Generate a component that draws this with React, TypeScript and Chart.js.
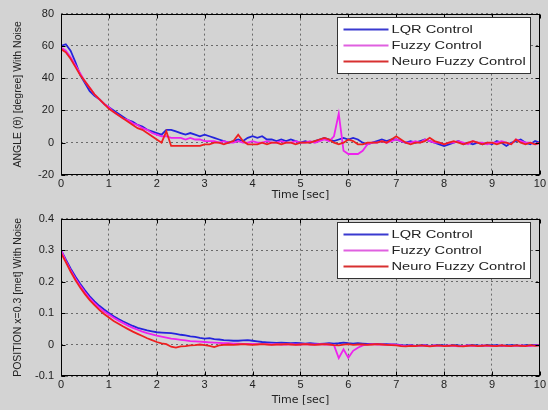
import React, { useEffect, useRef } from "react";
import { Chart, registerables } from "chart.js";
Chart.register(...registerables);

// time grid: 0 .. 10 s, 0.1 s step
const timeSec: number[] = Array.from({ length: 101 }, (_, i) => i / 10);
const xTickLabels = [0, 1, 2, 3, 4, 5, 6, 7, 8, 9, 10];
const angleTicks = [-20, 0, 20, 40, 60, 80];
const positionTicks = [-0.1, 0, 0.1, 0.2, 0.3, 0.4];
const seriesNames = ["LQR Control", "Fuzzy Control", "Neuro Fuzzy Control"];

// ANGLE (theta) [degree]
const angleLQR = [
  60, 61, 57, 50, 42, 37, 32, 29, 27, 24,
  22, 20, 18, 16, 14, 13, 11, 10, 8, 7,
  6, 5, 8, 8, 7, 6, 5, 6, 5, 4,
  5, 4, 3, 2, 1, 0, 1, 2, 1, 3,
  4, 3, 4, 2, 2, 1, 2, 1, 2, 1,
  0, 1, 0, 1, 2, 3, 2, 1, 2, 3,
  2, 3, 2, 0, -1, 0, 1, 2, 1, 2,
  2, 1, 0, 1, 0, 1, 2, 1, 0, -1,
  -2, -1, 0, 1, -1, 0, -1, 0, -1, 0,
  -1, 1, 0, -2, 0, 1, 2, 0, -1, 1,
  0,
];
const angleFuzzy = [
  59, 57, 53, 48, 43, 38, 34, 30, 27, 24,
  22, 19, 17, 15, 14, 12, 11, 9, 8, 6,
  5, 4, 4, 3, 3, 3, 2, 3, 2, 2,
  1, 1, 1, 0, 1, 0, 0, 1, 0, 0,
  1, 0, 0, 1, 0, 0, 1, 0, 0, 1,
  0, 0, 1, 0, 1, 2, 1, 4, 18, -5,
  -7, -7, -7, -5, -1, 0, 0, 1, 0, 1,
  2, 1, 0, 0, 1, 0, 2, 1, 0, 0,
  -1, 0, 0, 1, 0, -1, 1, 0, 0, -1,
  0, 0, 1, 0, -1, 2, 1, 0, 0, -1,
  0,
];
const angleNF = [
  58, 56, 52, 47, 42, 38, 34, 30, 27, 24,
  21, 19, 17, 15, 13, 11, 9, 8, 6, 4,
  2, 0, 7, -2, -2, -2, -2, -2, -2, -2,
  -1, -1, 0, 0, -1, 0, 1, 5, 1, -1,
  -1, -1, 0, -1, 0, 0, -1, 0, 0, -1,
  0, 0, 0, 1, 2, 3, 2, 0, -1, 0,
  2, 1, -1, -1, 0, 0, 0, 1, 0, 2,
  4, 2, 0, -1, 0, 0, 1, 3, 1, 0,
  -1, 0, 1, 0, -1, 0, 1, 0, -1, 0,
  0, -1, 0, 0, -1, 2, 0, -1, 0, -1,
  0,
];

// POSITION [m]
const posLQR = [
  0.300, 0.270, 0.242, 0.216, 0.193, 0.172, 0.153, 0.137, 0.123, 0.111,
  0.100, 0.090, 0.081, 0.073, 0.066, 0.059, 0.053, 0.049, 0.045, 0.042,
  0.039, 0.038, 0.037, 0.036, 0.034, 0.031, 0.029, 0.026, 0.024, 0.021,
  0.019, 0.020, 0.017, 0.016, 0.014, 0.013, 0.012, 0.012, 0.013, 0.014,
  0.012, 0.010, 0.008, 0.007, 0.006, 0.005, 0.006, 0.005, 0.004, 0.005,
  0.004, 0.003, 0.004, 0.003, 0.002, 0.003, 0.004, 0.003, 0.004, 0.006,
  0.004, 0.003, 0.004, 0.003, 0.002, 0.002, 0.002, 0.001, 0.001, 0.000,
  0.000, -0.002, -0.003, -0.002, -0.004, -0.003, -0.002, -0.004, -0.003, -0.002,
  -0.003, -0.004, -0.002, -0.003, -0.005, -0.003, -0.002, -0.003, -0.004, -0.002,
  -0.003, -0.002, -0.004, -0.003, -0.002, -0.003, -0.004, -0.002, -0.003, -0.001,
  -0.002,
];
const posFuzzy = [
  0.300, 0.266, 0.236, 0.210, 0.187, 0.166, 0.147, 0.131, 0.117, 0.105,
  0.095, 0.085, 0.076, 0.068, 0.060, 0.053, 0.047, 0.041, 0.036, 0.032,
  0.028, 0.025, 0.022, 0.019, 0.017, 0.015, 0.013, 0.011, 0.010, 0.009,
  0.008, 0.007, 0.006, 0.005, 0.004, 0.004, 0.003, 0.003, 0.002, 0.002,
  0.002, 0.001, 0.001, 0.001, 0.000, 0.001, 0.000, 0.000, 0.001, 0.000,
  0.000, 0.001, 0.000, 0.000, 0.001, 0.000, 0.000, -0.002, -0.043, -0.015,
  -0.042, -0.020, -0.010, -0.003, 0.000, 0.001, 0.000, 0.000, -0.001, 0.000,
  -0.001, -0.003, -0.005, -0.003, -0.004, -0.004, -0.003, -0.005, -0.003, -0.004,
  -0.004, -0.003, -0.004, -0.006, -0.004, -0.003, -0.004, -0.005, -0.003, -0.004,
  -0.005, -0.004, -0.003, -0.005, -0.004, -0.004, -0.003, -0.004, -0.005, -0.003,
  -0.003,
];
const posNF = [
  0.290, 0.262, 0.232, 0.205, 0.181, 0.160, 0.141, 0.125, 0.110, 0.097,
  0.086, 0.075, 0.066, 0.057, 0.049, 0.041, 0.034, 0.027, 0.020, 0.014,
  0.008, 0.004, 0.001, -0.007, -0.010, -0.006, -0.005, -0.003, -0.002, 0.000,
  -0.002, -0.004, -0.008, -0.003, -0.001, 0.000, -0.001, 0.000, 0.001, 0.000,
  -0.001, 0.000, 0.001, 0.000, -0.001, 0.000, 0.000, 0.001, 0.000, -0.001,
  0.000, 0.001, 0.000, -0.001, 0.000, 0.001, 0.000, -0.002, -0.003, 0.000,
  0.001, -0.001, 0.000, 0.000, -0.001, 0.000, 0.001, 0.000, -0.001, -0.002,
  -0.003, -0.005, -0.006, -0.004, -0.005, -0.003, -0.004, -0.006, -0.004, -0.003,
  -0.005, -0.004, -0.003, -0.005, -0.006, -0.004, -0.003, -0.005, -0.004, -0.003,
  -0.004, -0.005, -0.003, -0.004, -0.005, -0.003, -0.004, -0.005, -0.002, -0.004,
  -0.003,
];

const COLORS = ["#2424dc", "#ee22ee", "#ee2020"];
const LEGEND_COLORS = ["#3a3ad0", "#e060e0", "#d83030"];
const BG = "#d3d3d3";
const TXT = "#222";

const framePlugin = {
  id: "frameLegend",
  afterDatasetsDraw(chart: any) {
    const { ctx, chartArea: a, scales } = chart;
    const L = Math.round(a.left) + 0.5;
    const T = Math.round(a.top) + 0.5;
    const R = Math.round(a.right) - 0.5;
    const B = Math.round(a.bottom) - 0.5;
    ctx.save();
    ctx.strokeStyle = "#000";
    ctx.lineWidth = 1;
    ctx.setLineDash([]);
    ctx.strokeRect(L, T, R - L, B - T);
    // inward ticks
    ctx.beginPath();
    scales.x.ticks.forEach((t: any) => {
      const px = Math.round(scales.x.getPixelForValue(t.value)) + 0.5;
      ctx.moveTo(px, B); ctx.lineTo(px, B - 4);
      ctx.moveTo(px, T); ctx.lineTo(px, T + 4);
    });
    scales.y.ticks.forEach((t: any) => {
      const py = Math.round(scales.y.getPixelForValue(t.value)) + 0.5;
      ctx.moveTo(L, py); ctx.lineTo(L + 4, py);
      ctx.moveTo(R, py); ctx.lineTo(R - 4, py);
    });
    ctx.stroke();

    // legend box
    const bw = 193, bh = 56;
    const bx = Math.round(a.right) - 10 - bw + 0.5;
    const by = Math.round(a.top) + 3 + 0.5;
    ctx.fillStyle = "#fff";
    ctx.fillRect(bx, by, bw, bh);
    ctx.strokeStyle = "#333";
    ctx.strokeRect(bx, by, bw, bh);
    ctx.font = '11px "Liberation Sans", Arial, sans-serif';
    ctx.textBaseline = "middle";
    ctx.fillStyle = TXT;
    chart.data.datasets.forEach((ds: any, i: number) => {
      const ry = by + 12 + i * 16;
      ctx.strokeStyle = LEGEND_COLORS[i];
      ctx.lineWidth = 2;
      ctx.beginPath();
      ctx.moveTo(bx + 6, ry);
      ctx.lineTo(bx + 51, ry);
      ctx.stroke();
      ctx.save();
      ctx.translate(bx + 54, ry);
      ctx.scale(1.33, 1);
      ctx.fillStyle = TXT;
      ctx.fillText(ds.label, 0, 0);
      ctx.restore();
    });
    ctx.restore();
  },
};

function makeConfig(
  series: number[][],
  yTicks: number[],
  yTitle: string,
  xAxisHeight: number,
  yFmt: (v: number) => string
): any {
  return {
    type: "line",
    data: {
      labels: timeSec,
      datasets: series.map((s, i) => ({
        label: seriesNames[i],
        data: s.map((v, k) => ({ x: timeSec[k], y: v })),
        borderColor: COLORS[i],
        borderWidth: 1.8,
        pointRadius: 0,
        tension: 0,
        fill: false,
        order: 2 - i,
      })),
    },
    options: {
      animation: false,
      responsive: false,
      devicePixelRatio: 1,
      layout: { padding: { left: 0, right: 7, top: 10, bottom: 0 } },
      plugins: { legend: { display: false }, tooltip: { enabled: false } },
      scales: {
        x: {
          type: "linear",
          min: 0,
          max: 10,
          afterBuildTicks: (sc: any) => {
            sc.ticks = xTickLabels.map((v) => ({ value: v }));
          },
          afterFit: (sc: any) => {
            sc.height = xAxisHeight;
          },
          ticks: {
            color: TXT,
            padding: 2,
            maxRotation: 0,
            font: { family: '"Liberation Sans", Arial, sans-serif', size: 11 },
            callback: (v: number) => String(v),
          },
          grid: { color: "#6a6a6a", lineWidth: 1, drawTicks: false },
          border: { display: false, dash: [2, 3] },
          title: {
            display: true,
            text: "Time [sec]",
            color: TXT,
            font: { family: '"DejaVu Sans", sans-serif', size: 11 },
            padding: { top: 0, bottom: 3.4 },
          },
        },
        y: {
          type: "linear",
          min: yTicks[0],
          max: yTicks[yTicks.length - 1],
          afterBuildTicks: (sc: any) => {
            sc.ticks = yTicks.map((v) => ({ value: v }));
          },
          afterFit: (sc: any) => {
            sc.width = 61;
          },
          ticks: {
            color: TXT,
            padding: 7,
            font: { family: '"Liberation Sans", Arial, sans-serif', size: 11 },
            callback: (v: number) => yFmt(v),
          },
          grid: { color: "#6a6a6a", lineWidth: 1, drawTicks: false },
          border: { display: false, dash: [2, 3] },
          title: {
            display: true,
            text: yTitle,
            color: TXT,
            font: { family: '"Liberation Sans", Arial, sans-serif', size: 10.5 },
            padding: { top: 12, bottom: 0 },
          },
        },
      },
    },
    plugins: [framePlugin],
  };
}

function ChartCanvas({ config }: { config: () => any }) {
  const ref = useRef<HTMLCanvasElement | null>(null);
  useEffect(() => {
    if (!ref.current) return;
    const chart = new Chart(ref.current, config());
    return () => chart.destroy();
  }, []);
  return <canvas ref={ref} width={548} height={205} style={{ display: "block", width: 548, height: 205 }} />;
}

export default function App() {
  return (
    <div
      style={{
        position: "absolute",
        left: 0,
        top: 0,
        width: 548,
        height: 410,
        background: BG,
        overflow: "hidden",
      }}
    >
      <ChartCanvas
        config={() =>
          makeConfig([angleLQR, angleFuzzy, angleNF], angleTicks, "ANGLE (θ) [degree] With Noise", 30, (v) => String(v))
        }
      />
      <ChartCanvas
        config={() =>
          makeConfig(
            [posLQR, posFuzzy, posNF],
            positionTicks,
            "POSITION x=0.3 [met] With Noise",
            34,
            (v) => (Math.abs(v) < 1e-9 ? "0" : String(Math.round(v * 10) / 10))
          )
        }
      />
    </div>
  );
}
